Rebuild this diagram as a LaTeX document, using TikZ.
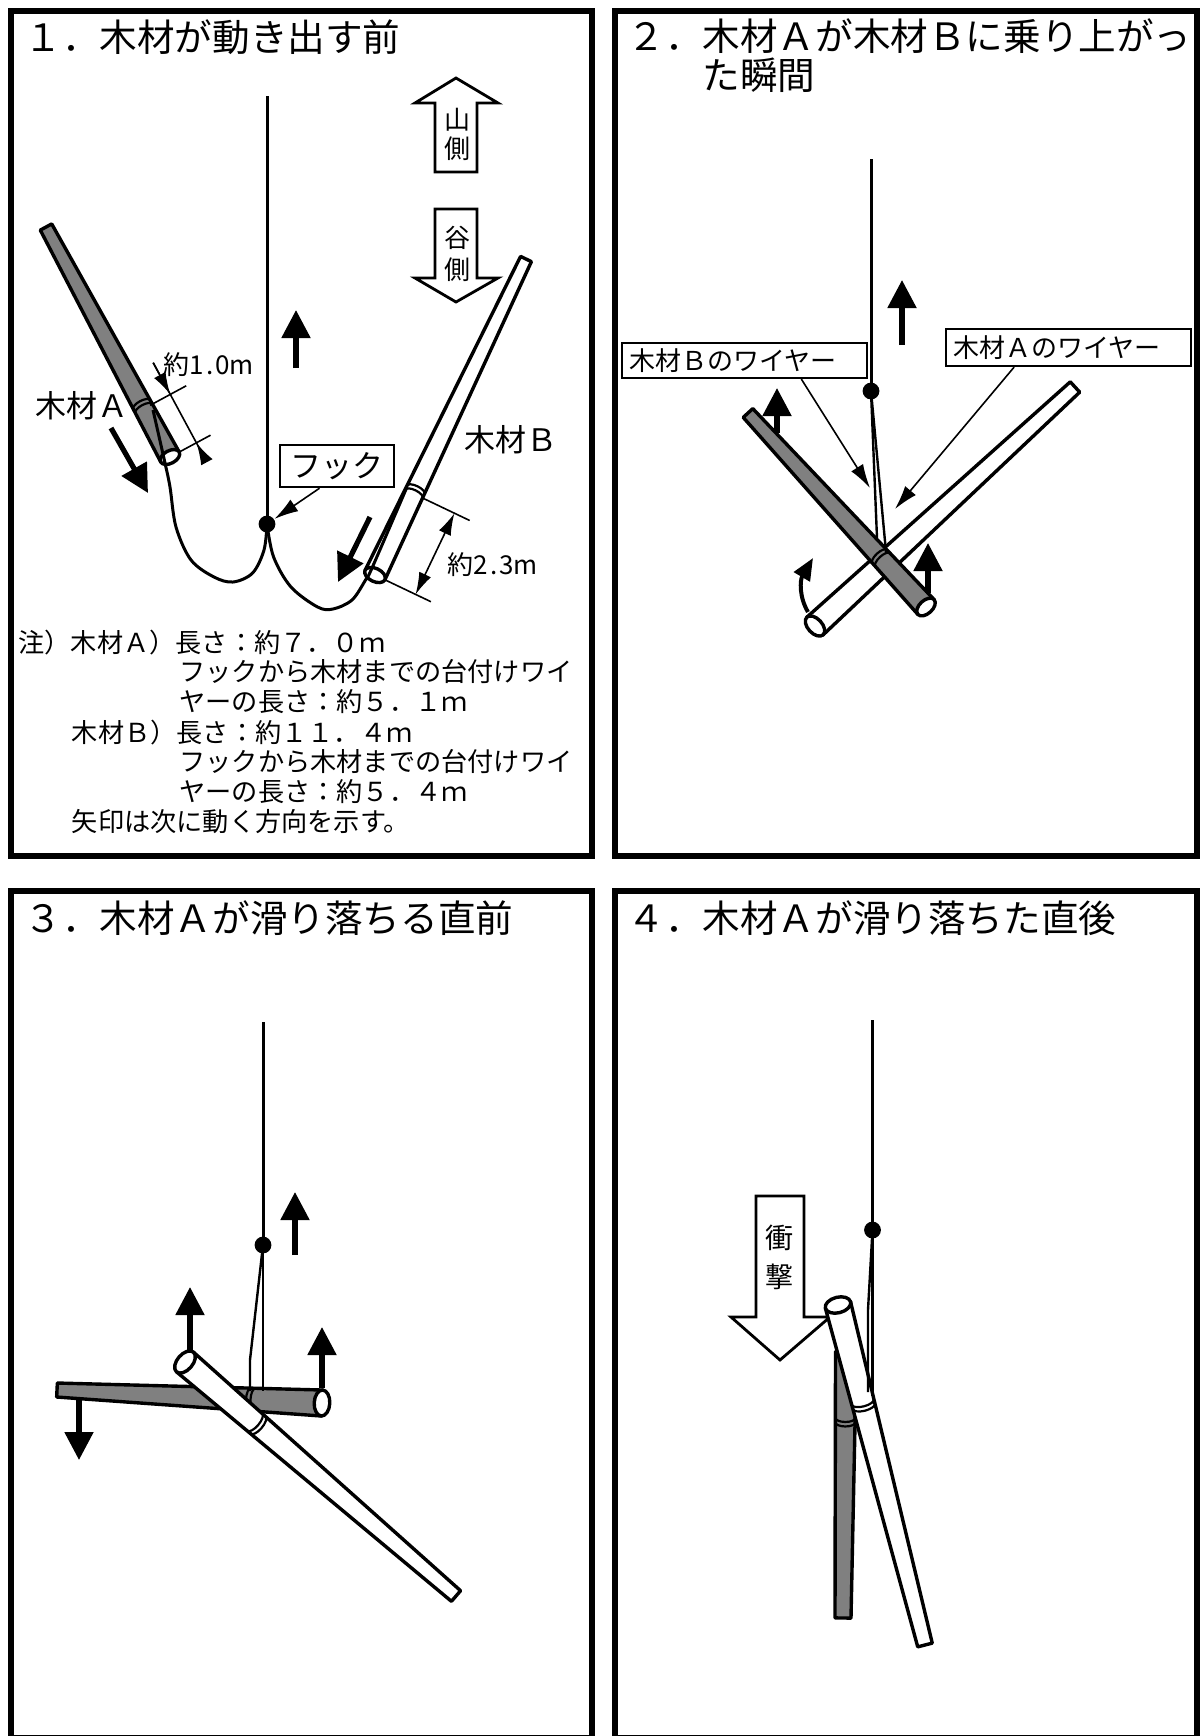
\documentclass[tikz,border=0pt]{standalone}
\usepackage{fontspec}
\setmainfont{Noto Sans CJK JP}
\usetikzlibrary{arrows.meta,calc}
\definecolor{rodgray}{RGB}{128,128,128}

\newcommand\fsTitle{\fontsize{18.8pt}{19.5pt}\selectfont}
\newcommand\fsLabel{\fontsize{15.5pt}{18pt}\selectfont}
\newcommand\fsNote{\fontsize{13.1pt}{15pt}\selectfont}
\newcommand\fsBox{\fontsize{13pt}{15pt}\selectfont}
\newcommand\fsArrow{\fontsize{13pt}{15pt}\selectfont}
\newcommand\fsImpact{\fontsize{14pt}{16pt}\selectfont}
\newcommand\fsDim{\fontsize{13pt}{15pt}\selectfont}

% A tapered log: #1,#2 butt end, #3,#4 tip end (px), #5 butt half width,
% #6 tip half width, #7 fill, #8 distance of the sling band from the butt (0 = none),
% #9 = 1 to draw the end face of the butt.
\newcommand\drawtimber[9]{%
  \pgfmathsetmacro\tmbang{atan2(-(#4)+(#2),(#3)-(#1))}%
  \pgfmathsetmacro\tmblen{veclen((#3)-(#1),(#4)-(#2))}%
  \begin{scope}[shift={(#1,#2)},rotate=\tmbang]
    \draw[rodline,fill=#7] (0,-#5) -- (\tmblen,-#6) -- (\tmblen,#6) -- (0,#5) -- cycle;
    \ifdim #8pt>0pt
      \pgfmathsetmacro\tmbw{#5+(#6-#5)*#8/\tmblen}%
      \pgfmathsetmacro\tmbry{0.5*\tmbw}%
      \pgfmathsetmacro\tmbrx{0.2*\tmbw}%
      \draw[bandline] (#8,-\tmbw) arc[start angle=90,end angle=-90,x radius=\tmbrx pt,y radius=\tmbry pt];
      \draw[bandline] (#8+4.5,-\tmbw) arc[start angle=90,end angle=-90,x radius=\tmbrx pt,y radius=\tmbry pt];
    \fi
    \ifnum#9=1
      \pgfmathsetmacro\tmbey{0.5*#5}%
      \pgfmathsetmacro\tmbex{0.3*#5}%
      \draw[rodline,fill=white] (0,0) ellipse[x radius=\tmbex pt,y radius=\tmbey pt];
    \fi
  \end{scope}}

\begin{document}
\begin{tikzpicture}[x=0.5pt,y=-0.5pt,
  panel/.style={draw,line width=3pt},
  rodline/.style={line width=1.7pt,line join=round},
  bandline/.style={line width=1.1pt},
  wire/.style={line width=1.5pt},
  thinwire/.style={line width=1.2pt},
  hookdot/.style={fill=black},
  movearrow/.style={line width=2.6pt,-{Triangle[width=14pt,length=14pt]}},
  curvearrow/.style={line width=2pt,-{Triangle[width=9pt,length=11pt]}},
  hollow/.style={draw,fill=white,line width=1.4pt,line join=miter},
  leader/.style={line width=0.8pt,-{Latex[width=7pt,length=12pt]}},
  dimline/.style={line width=0.8pt},
  dimtip/.style={line width=0.8pt,-{Latex[width=6.5pt,length=11pt]}},
  txt/.style={inner sep=0pt},
  labelbox/.style={draw,line width=1.1pt,fill=white,inner ysep=0pt,inner xsep=3.5pt,align=left}
]
\useasboundingbox (0,0) rectangle (1200,1736);

% ---------- frames ----------
\draw[panel] (10.5,10.5) rectangle (592,855.5);
\draw[panel] (615,10.5) rectangle (1197,855.5);
\draw[panel] (10.5,890.5) rectangle (592,1738);
\draw[panel] (615,890.5) rectangle (1197,1738);

% ---------- 1 ----------
\node[txt,anchor=west,font=\fsTitle] (title1) at (24,37) {１．木材が動き出す前};

\coordinate (top1) at (267,96);
\coordinate (hk1) at (267,524);
\draw[wire] (top1) -- (hk1);

\drawtimber{170}{457}{46}{227}{10.5}{6.5}{rodgray}{55}{1}
\drawtimber{375}{575}{526}{259}{11}{6}{white}{90}{1}

% slings
\draw[wire] plot[smooth,tension=0.55] coordinates {(153,410) (165,463) (170,487) (176,527) (191,560) (214,577) (233,582) (252.6,573) (264,550) (hk1)};
\draw[wire] plot[smooth,tension=0.55] coordinates {(hk1) (273.6,557) (291,587) (317.6,607) (333,609) (352,600) (365.5,580) (372,568) (407,487)};
\fill[hookdot] (hk1) circle[radius=4.2pt];

% length marks
\draw[dimline] (150.1,405.3) -- (186.2,385.8);
\draw[dimline] (179.7,451.8) -- (210.5,435.2);
\draw[dimline] (153.2,362.7) -- (205.4,459.5);
\draw[dimtip] (153.2,362.7) -- (170.3,394.4);
\draw[dimtip] (205.4,459.5) -- (196.4,442.8);
\node[txt,font=\fsDim] (dimA) at (209,365) {約1\kern1pt.\kern1pt0m};

\draw[dimline] (422.8,498.1) -- (469.7,520.5);
\draw[dimline] (385.8,580.2) -- (430.9,601.7);
\draw[dimline,{Latex[width=6.5pt,length=11pt]}-{Latex[width=6.5pt,length=11pt]}] (454.4,513.2) -- (415.6,594.4);
\node[txt,font=\fsDim] (dimB) at (493,565) {約2\kern1pt.\kern1pt3m};

% motion arrows
\draw[movearrow] (111,428) -- (148,493);
\draw[movearrow] (370,517) -- (338,582);
\draw[movearrow] (296,368) -- (296,310);

% up-slope / down-slope arrows
\draw[hollow] (456,78) -- (498,103) -- (477,103) -- (477,172) -- (435,172) -- (435,103) -- (415,103) -- cycle;
\node[txt,font=\fsArrow] (yama) at (457,120) {山};
\node[txt,font=\fsArrow] (yamagawa) at (457,149) {側};
\draw[hollow] (435,209) -- (477,209) -- (477,278) -- (498,278) -- (456,302) -- (415,278) -- (435,278) -- cycle;
\node[txt,font=\fsArrow] (tani) at (457,238) {谷};
\node[txt,font=\fsArrow] (tanigawa) at (457,270) {側};

% labels
\node[txt,anchor=west,font=\fsLabel] (labA) at (35,406) {木材Ａ};
\node[txt,anchor=west,font=\fsLabel] (labB) at (464,440) {木材Ｂ};
\node[draw,line width=1.2pt,fill=white,minimum width=57pt,minimum height=21pt,inner sep=0pt,font=\fsLabel] (hooklabel) at (337,466) {フック};
\draw[leader,shorten >=4.5pt] ($(hooklabel.south west)!0.35!(hooklabel.south east)$) -- (hk1);

% notes
\node[txt,anchor=west,font=\fsNote] (n1) at (18,643) {注）木材Ａ）長さ：約７．０ｍ};
\node[txt,anchor=west,font=\fsNote] (n2) at (179,672) {フックから木材までの台付けワイ};
\node[txt,anchor=west,font=\fsNote] (n3) at (179,702) {ヤーの長さ：約５．１ｍ};
\node[txt,anchor=west,font=\fsNote] (n4) at (71.5,733) {木材Ｂ）長さ：約１１．４ｍ};
\node[txt,anchor=west,font=\fsNote] (n5) at (179,762) {フックから木材までの台付けワイ};
\node[txt,anchor=west,font=\fsNote] (n6) at (179,792) {ヤーの長さ：約５．４ｍ};
\node[txt,anchor=west,font=\fsNote] (n7) at (71.5,822) {矢印は次に動く方向を示す。};

% ---------- 2 ----------
\node[txt,anchor=north west,font=\fsTitle,align=left] (title2) at (627,18) {２．木材Ａが木材Ｂに乗り上がっ\\\hspace*{2em}た瞬間};

\coordinate (top2) at (871,159);
\coordinate (hk2) at (871,391);
\draw[wire] (top2) -- (hk2);

\drawtimber{815}{626}{1075}{387}{12}{7}{white}{0}{1}
\drawtimber{926}{607}{748}{413}{11}{6.5}{rodgray}{64}{1}

\coordinate (slB2) at (877,538);
\coordinate (slA2) at (886,552);
\draw[thinwire] (hk2) -- (slB2);
\draw[thinwire] (hk2) -- (slA2);
\fill[hookdot] (hk2) circle[radius=4.2pt];

\node[labelbox,text width=115.5pt,minimum height=17.5pt,font=\fsBox] (boxB) at (744.5,360.5) {木材Ｂのワイヤー};
\node[labelbox,text width=115.5pt,minimum height=18.5pt,font=\fsBox] (boxA) at (1068.5,347.5) {木材Ａのワイヤー};
\coordinate (ptrB) at (870,488);
\coordinate (ptrA) at (895,509);
\draw[leader] ($(boxB.south west)!0.73!(boxB.south east)$) -- (ptrB);
\draw[leader] ($(boxA.south west)!0.28!(boxA.south east)$) -- (ptrA);

\draw[movearrow] (902,345) -- (902,280);
\draw[movearrow] (777,433) -- (777,388);
\draw[movearrow] (928,593) -- (928,543);
\draw[curvearrow] (808,612) .. controls (799,597) and (800,580) .. (813,558);

% ---------- 3 ----------
\node[txt,anchor=west,font=\fsTitle] (title3) at (24,918) {３．木材Ａが滑り落ちる直前};

\coordinate (top3) at (263,1022);
\coordinate (hk3) at (263,1245);
\draw[wire] (top3) -- (hk3);

\drawtimber{322}{1403}{57}{1390}{13}{7}{rodgray}{67}{1}
\drawtimber{185}{1362}{456}{1596}{13}{7}{white}{92}{1}

\coordinate (sl3a) at (263,1391);
\coordinate (sl3b) at (250,1391);
\draw[thinwire] (hk3) -- (sl3a);
\draw[thinwire] (hk3) -- (250,1360) -- (sl3b);
\fill[hookdot] (hk3) circle[radius=4.2pt];

\draw[movearrow] (295,1255) -- (295,1192);
\draw[movearrow] (190,1352) -- (190,1287);
\draw[movearrow] (322,1388) -- (322,1327);
\draw[movearrow] (79,1400) -- (79,1460);

% ---------- 4 ----------
\node[txt,anchor=west,font=\fsTitle] (title4) at (627,918) {４．木材Ａが滑り落ちた直後};

\coordinate (top4) at (872.5,1020);
\coordinate (hk4) at (872.5,1230);
\draw[wire] (top4) -- (hk4);

\draw[hollow] (756,1196) -- (804,1196) -- (804,1317) -- (830,1317) -- (780,1360) -- (731,1317) -- (756,1317) -- cycle;
\node[txt,font=\fsImpact] (shou) at (779,1238) {衝};
\node[txt,font=\fsImpact] (geki) at (779,1277) {撃};

\drawtimber{846}{1352}{843}{1618}{10.5}{8}{rodgray}{66}{0}
\drawtimber{838}{1305}{925}{1645}{13}{7.5}{white}{100}{1}

\coordinate (sl4a) at (872.5,1396);
\coordinate (sl4b) at (868,1392);
\draw[thinwire] (hk4) -- (sl4a);
\draw[thinwire] (hk4) -- (868,1310) -- (sl4b);
\fill[hookdot] (hk4) circle[radius=4.2pt];

\end{tikzpicture}
\end{document}
